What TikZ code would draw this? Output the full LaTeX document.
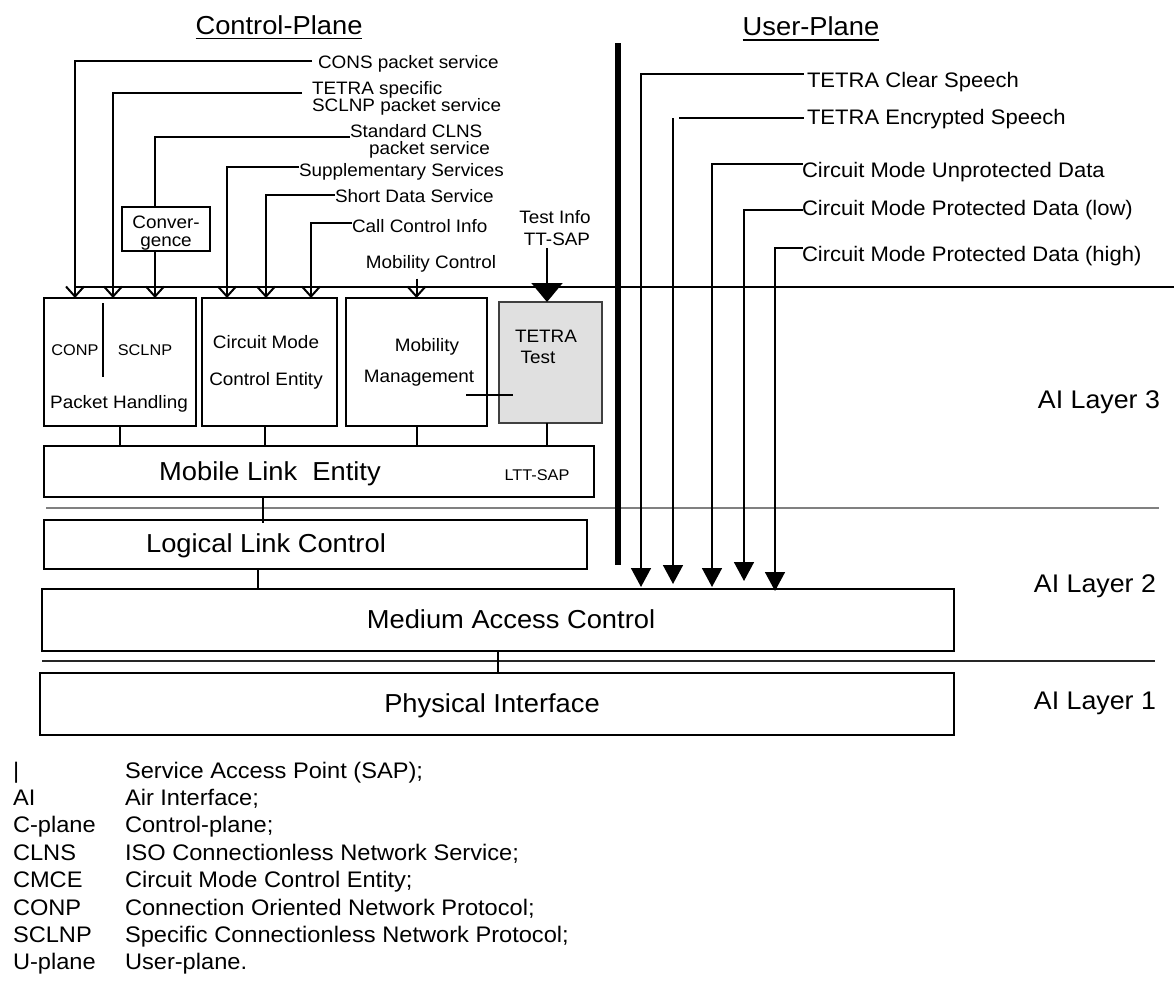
\documentclass[tikz,border=0pt]{standalone}
\usepackage{fontspec}
\setmainfont[FakeStretch=1.05]{Liberation Sans}
\usetikzlibrary{arrows.meta,calc}
\newcommand\myfs[1]{\fontsize{#1pt}{#1pt}\selectfont}
\begin{document}
\begin{tikzpicture}[x=1pt,y=-1pt,
  box/.style={draw,line width=2.4pt,inner sep=0pt,outer sep=0pt},
  lbl/.style={inner sep=0pt,outer sep=0pt},
  clab/.style={lbl,anchor=base west,font=\myfs{18}},
  ulab/.style={lbl,anchor=base west,font=\myfs{21}},
  btxt/.style={lbl,anchor=base,font=\myfs{18}},
  stxt/.style={lbl,anchor=base,font=\myfs{15.5}},
  big/.style={lbl,anchor=base,font=\myfs{26}},
  layerlab/.style={lbl,anchor=base east,font=\myfs{25.5}},
  leg/.style={lbl,anchor=base west,font=\myfs{22.5}},
  conn/.style={line width=2pt},
  oarr/.style={line width=2pt,-{Straight Barb[length=10pt,width=18pt]}},
  uarr/.style={line width=1.6pt,-{Triangle[length=19pt,width=20pt]}},
  uh/.style={line width=2pt,line cap=rect},
  sepline/.style={line width=1.3pt}]
\useasboundingbox (0,0) rectangle (1174,980);

% titles
\node[lbl,anchor=base,font=\myfs{26}] (cpt) at (279,34) {Control-Plane};
\draw[sepline] ($(cpt.base west)+(0,4.5)$) -- ($(cpt.base east)+(0,4.5)$);
\node[lbl,anchor=base,font=\myfs{26}] (upt) at (811,35) {User-Plane};
\draw[sepline] ($(upt.base west)+(0,5)$) -- ($(upt.base east)+(0,5)$);

% layer separators
\draw[line width=1.3pt] (74,287) -- (1174,287);
\draw[line width=1.5pt,black!50] (46,508) -- (1159,508);
\draw[line width=1.3pt,black!85] (42,661) -- (1155,661);

% boxes
\node[box,minimum width=152pt,minimum height=128pt] (pkt) at (120,362) {};
\node[box,minimum width=135pt,minimum height=128pt] (cmce) at (269.5,362) {};
\node[box,minimum width=141pt,minimum height=128pt] (mm) at (416.5,362) {};
\node[box,draw=black!75,line width=2pt,fill=black!12,minimum width=103pt,minimum height=121pt] (test) at (550.5,362.5) {};
\node[box,fill=white,minimum width=550pt,minimum height=51pt] (mle) at (319,471.5) {};
\node[box,fill=white,minimum width=543pt,minimum height=49pt] (llc) at (315.5,544.5) {};
\node[box,minimum width=912pt,minimum height=62pt] (mac) at (498,620) {};
\node[box,minimum width=914pt,minimum height=62pt] (phy) at (497,704) {};
\node[box,minimum width=88pt,minimum height=44pt] (conv) at (166,229) {};

% texts in boxes
\node[stxt] (tconp) at (75,355) {CONP};
\node[stxt] (tsclnp) at (145,355) {SCLNP};
\draw[sepline] (103,303) -- (103,377);
\node[btxt] (tph) at (119,408) {Packet Handling};
\node[btxt] (tcm1) at (266,348) {Circuit Mode};
\node[btxt] (tcm2) at (266,385) {Control Entity};
\node[btxt] (tmm1) at (427,351) {Mobility};
\node[btxt] (tmm2) at (419,382) {Management};
\node[btxt] (tte1) at (546,342) {TETRA};
\node[btxt] (tte2) at (538,363) {Test};
\draw[sepline] (466,395) -- (513,395);
\node[big] (tmle) at (270,480) {Mobile Link\ \ Entity};
\node[stxt] (tltt) at (537,480) {LTT-SAP};
\node[big] (tllc) at (266,552) {Logical Link Control};
\node[big] (tmac) at (511,628) {Medium Access Control};
\node[big] (tphy) at (492,712) {Physical Interface};
\node[btxt] (tcv1) at (166,228) {Conver-};
\node[btxt] (tcv2) at (166,246) {gence};

% control-plane labels
\node[clab] (cons) at (318,68) {CONS packet service};
\node[clab] (tsa) at (312,94) {TETRA specific};
\node[clab] (tsb) at (312,111) {SCLNP packet service};
\node[clab] (stda) at (350,137) {Standard CLNS};
\node[clab] (stdb) at (369,154) {packet service};
\node[clab] (sup) at (299,176) {Supplementary Services};
\node[clab] (sds) at (335,202) {Short Data Service};
\node[clab] (cci) at (352,232) {Call Control Info};
\node[lbl,anchor=base,font=\myfs{18}] (ti) at (555,223) {Test Info};
\node[lbl,anchor=base,font=\myfs{18}] (tt) at (557,245) {TT-SAP};
\node[lbl,anchor=base,font=\myfs{18}] (mobc) at (431,268) {Mobility Control};

% control-plane connectors
\coordinate (k1) at (75,61);
\draw[oarr] ($(k1 -| cons.west)+(-6,0)$) -- (k1) -- (k1 |- pkt.north);
\coordinate (k2) at (113,93);
\draw[oarr] ($(k2 -| tsa.west)+(-10,0)$) -- (k2) -- (k2 |- pkt.north);
\coordinate (k3) at (155,137);
\draw[conn] (k3 -| stda.west) -- (k3) -- (k3 |- conv.north);
\draw[oarr] (k3 |- conv.south) -- (k3 |- pkt.north);
\coordinate (k4) at (227,167);
\draw[oarr] (k4 -| sup.west) -- (k4) -- (k4 |- cmce.north);
\coordinate (k5) at (266,195);
\draw[oarr] (k5 -| sds.west) -- (k5) -- (k5 |- cmce.north);
\coordinate (k6) at (311,223);
\draw[oarr] (k6 -| cci.west) -- (k6) -- (k6 |- cmce.north);
\draw[oarr] ($(mobc.south -| mm.north)+(0,7)$) -- (mm.north);
\draw[line width=2pt,-{Triangle[length=19pt,width=31pt]}] ($(tt.south -| test.north)+(-3.5,3)$) -- ($(test.north)+(-3.5,0)$);

% user plane
\draw[line width=5.5pt] (618,43) -- (618,565);
\node[ulab] (ucl) at (807,87) {TETRA Clear Speech};
\node[ulab] (uen) at (807,124) {TETRA Encrypted Speech};
\node[ulab] (ucu) at (802,177) {Circuit Mode Unprotected Data};
\node[ulab] (ulo) at (802,215) {Circuit Mode Protected Data (low)};
\node[ulab] (uhi) at (802,261) {Circuit Mode Protected Data (high)};
\coordinate (q1) at (641,74);
\draw[uh] ($(q1 -| ucl.west)+(-4,0)$) -- (q1);
\draw[uarr,shorten >=2pt] (q1) -- (q1 |- mac.north);
\coordinate (q2) at (673,118);
\draw[uh] ($(q2 -| uen.west)+(-4,0)$) -- ($(q2)+(7,0)$);
\draw[uarr,shorten >=5pt] (q2) -- (q2 |- mac.north);
\coordinate (q3) at (712,164);
\draw[uh] (q3 -| ucu.west) -- (q3);
\draw[uarr,shorten >=2pt] (q3) -- (q3 |- mac.north);
\coordinate (q4) at (744,210);
\draw[uh] (q4 -| ulo.west) -- (q4);
\draw[uarr,shorten >=8pt] (q4) -- (q4 |- mac.north);
\coordinate (q5) at (775,248);
\draw[uh] (q5 -| uhi.west) -- (q5);
\draw[uarr,shorten >=-2pt] (q5) -- (q5 |- mac.north);

% layer connectors
\draw[conn] (pkt.south) -- (pkt.south |- mle.north);
\coordinate (m2) at ($(cmce.south)+(-5,0)$);
\draw[conn] (m2) -- (m2 |- mle.north);
\draw[conn] (mm.south) -- (mm.south |- mle.north);
\coordinate (m4) at ($(test.south)+(-3.5,0)$);
\draw[conn] (m4) -- (m4 |- mle.north);
\coordinate (m5) at ($(mle.south west)+(219,0)$);
\draw[conn] (m5) -- ($(m5 |- llc.north)+(0,3)$);
\coordinate (m6) at ($(llc.south west)+(214,0)$);
\draw[conn] (m6) -- (m6 |- mac.north);
\draw[conn] (mac.south) -- (mac.south |- phy.north);

% layer labels
\node[layerlab] (l3) at (1160,408) {AI Layer 3};
\node[layerlab] (l2) at (1156,592) {AI Layer 2};
\node[layerlab] (l1) at (1156,709) {AI Layer 1};

% legend
\node[leg] (a0) at (13,778) {|};
\node[leg] (b0) at (125,778) {Service Access Point (SAP);};
\node[leg] (a1) at (13,805.4) {AI};
\node[leg] (b1) at (125,805.4) {Air Interface;};
\node[leg] (a2) at (13,832.8) {C-plane};
\node[leg] (b2) at (125,832.8) {Control-plane;};
\node[leg] (a3) at (13,860.2) {CLNS};
\node[leg] (b3) at (125,860.2) {ISO Connectionless Network Service;};
\node[leg] (a4) at (13,887.6) {CMCE};
\node[leg] (b4) at (125,887.6) {Circuit Mode Control Entity;};
\node[leg] (a5) at (13,915) {CONP};
\node[leg] (b5) at (125,915) {Connection Oriented Network Protocol;};
\node[leg] (a6) at (13,942.4) {SCLNP};
\node[leg] (b6) at (125,942.4) {Specific Connectionless Network Protocol;};
\node[leg] (a7) at (13,969.8) {U-plane};
\node[leg] (b7) at (125,969.8) {User-plane.};
\end{tikzpicture}
\end{document}
